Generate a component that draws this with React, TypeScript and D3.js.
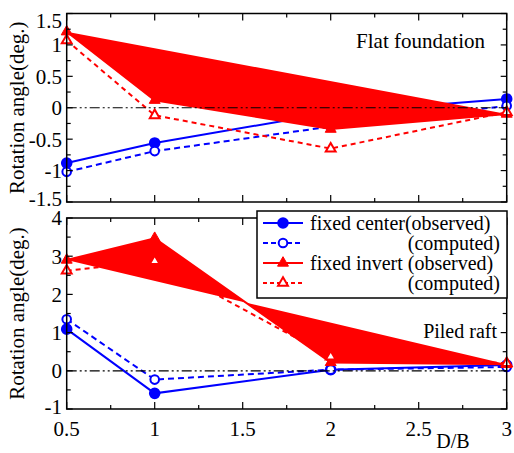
import * as d3 from "d3";

// D/B positions
const dbValues = [0.5, 1, 2, 3];

// Flat foundation (top panel)
const flatCenterObserved = [-0.88, -0.56, -0.08, 0.14];
const flatCenterComputed = [-1.02, -0.69, -0.3, 0.03];
const flatInvertObserved = [1.21, 0.12, -0.34, -0.1];
const flatInvertComputed = [1.07, -0.12, -0.65, -0.07];

// Piled raft (bottom panel)
const piledCenterObserved = [1.09, -0.59, 0.03, 0.15];
const piledCenterComputed = [1.35, -0.23, 0.03, 0.1];
const piledInvertObserved = [2.9, 3.47, 0.22, 0.17];
const piledInvertComputed = [2.62, 2.87, 0.37, 0.2];

const xMajorTicks = [0.5, 1, 1.5, 2, 2.5, 3];
const xMinorTicks = [0.75, 1.25, 1.75, 2.25, 2.75];
const topYTicks = [-1.5, -1, -0.5, 0, 0.5, 1, 1.5];
const topYMinor = [-1.25, -0.75, -0.25, 0.25, 0.75, 1.25];
const bottomYTicks = [-1, 0, 1, 2, 3, 4];
const bottomYMinor = [-0.5, 0.5, 1.5, 2.5, 3.5];

const legendLabels = [
  "fixed center(observed)",
  "(computed)",
  "fixed invert (observed)",
  "(computed)",
];

const BLUE = "#0000ff";
const RED = "#ff0000";
const FONT = "'Liberation Serif', 'Times New Roman', serif";

const left = 66.7;
const right = 506.7;

const x = d3.scaleLinear().domain([0.5, 3]).range([left, right]);

type Series = { values: number[]; color: string; filled: boolean; dash?: string; shape: "circle" | "triangle"; area?: boolean };

function Panel({
  y,
  yTicks,
  yMinor,
  series,
  showXLabels,
  isTop,
}: {
  y: d3.ScaleLinear<number, number>;
  yTicks: number[];
  yMinor: number[];
  series: Series[];
  showXLabels: boolean;
  isTop: boolean;
}) {
  const [y0, y1] = y.range(); // bottom, top
  const line = d3
    .line<number>()
    .x((_, i) => x(dbValues[i]))
    .y((d) => y(d));
  const tri = d3.symbol(d3.symbolTriangle, 52)();
  const triOpen = d3.symbol(d3.symbolTriangle, 42)();
  const fmt = (v: number) => String(v);
  const [dMin, dMax] = y.domain();

  const drawMarkers = (s: Series) =>
    s.values.map((v, i) =>
      s.shape === "circle" ? (
        <circle
          key={i}
          cx={x(dbValues[i])}
          cy={y(v)}
          r={s.filled ? 4.8 : 4.3}
          fill={s.filled ? s.color : "white"}
          stroke={s.color}
          strokeWidth={2}
        />
      ) : (
        <path
          key={i}
          d={(s.filled ? tri : triOpen) || ""}
          transform={`translate(${x(dbValues[i])},${y(v)})`}
          fill={s.filled ? s.color : "white"}
          stroke={s.color}
          strokeWidth={s.filled ? 1 : 2}
        />
      )
    );

  // label nudges, as in the original figure
  const labelShift = (t: number) => {
    if (isTop && t === dMax) return 7;
    if (isTop && t === dMin) return -3;
    if (!isTop && t === dMin) return -2;
    return 0;
  };

  return (
    <g>
      {series.map((s, k) => (
        <g key={k}>
          <path
            d={line(s.values) || ""}
            fill={s.area ? s.color : "none"}
            stroke={s.color}
            strokeWidth={2}
            strokeDasharray={s.dash}
          />
          {drawMarkers(s)}
        </g>
      ))}
      {/* zero reference line */}
      <line x1={left} x2={right} y1={y(0)} y2={y(0)} stroke="black" strokeWidth={1.2} strokeDasharray="10,3,2,3,2,3" />
      {/* frame */}
      <rect x={left} y={y1} width={right - left} height={y0 - y1} fill="none" stroke="black" strokeWidth={1.5} />
      {/* x ticks, inward top and bottom */}
      {[...xMajorTicks.map((t) => [t, 7]), ...xMinorTicks.map((t) => [t, 4])].map(([t, len], i) => (
        <g key={"x" + i}>
          <line x1={x(t)} x2={x(t)} y1={y0} y2={y0 - len} stroke="black" strokeWidth={1.2} />
          <line x1={x(t)} x2={x(t)} y1={y1} y2={y1 + len} stroke="black" strokeWidth={1.2} />
        </g>
      ))}
      {[...yTicks.map((t) => [t, 6]), ...yMinor.map((t) => [t, 4])].map(([t, len], i) => (
        <g key={"y" + i}>
          <line x1={left} x2={left + len} y1={y(t)} y2={y(t)} stroke="black" strokeWidth={1.2} />
          <line x1={right} x2={right - len} y1={y(t)} y2={y(t)} stroke="black" strokeWidth={1.2} />
        </g>
      ))}
      {yTicks.map((t) => (
        <text key={"yl" + t} x={62} y={y(t) + labelShift(t)} dy="0.35em" textAnchor="end" fontSize={21} fontFamily={FONT}>
          {fmt(t)}
        </text>
      ))}
      {showXLabels &&
        xMajorTicks.map((t) => (
          <text key={"xl" + t} x={x(t)} y={436} textAnchor="middle" fontSize={21} fontFamily={FONT}>
            {fmt(t)}
          </text>
        ))}
      <text
        transform={`translate(24,${(y0 + y1) / 2}) rotate(-90)`}
        textAnchor="middle"
        fontSize={21}
        fontFamily={FONT}
      >
        Rotation angle(deg.)
      </text>
    </g>
  );
}

function Legend() {
  const lx = 257;
  const ly = 211;
  const rows = [
    { color: BLUE, dash: undefined, shape: "circle", filled: true },
    { color: BLUE, dash: "5,3", shape: "circle", filled: false },
    { color: RED, dash: undefined, shape: "triangle", filled: true },
    { color: RED, dash: "4,3", shape: "triangle", filled: false },
  ];
  const tri = d3.symbol(d3.symbolTriangle, 52)();
  const triOpen = d3.symbol(d3.symbolTriangle, 42)();
  return (
    <g>
      <rect x={lx} y={ly} width={250} height={87} fill="white" stroke="black" strokeWidth={1.5} />
      {rows.map((r, i) => {
        const cy = 223 + i * 20;
        return (
          <g key={i}>
            <line x1={263} x2={303} y1={cy} y2={cy} stroke={r.color} strokeWidth={2} strokeDasharray={r.dash} />
            {r.shape === "circle" ? (
              <circle cx={283} cy={cy} r={r.filled ? 4.8 : 4.3} fill={r.filled ? r.color : "white"} stroke={r.color} strokeWidth={2} />
            ) : (
              <path d={(r.filled ? tri : triOpen) || ""} transform={`translate(283,${cy})`} fill={r.filled ? r.color : "white"} stroke={r.color} strokeWidth={r.filled ? 1 : 2} />
            )}
            <text
              x={i % 2 === 0 ? 310 : 500}
              y={cy + 7}
              textAnchor={i % 2 === 0 ? "start" : "end"}
              fontSize={20}
              fontFamily={FONT}
            >
              {legendLabels[i]}
            </text>
          </g>
        );
      })}
    </g>
  );
}

export default function App() {
  const yTop = d3.scaleLinear().domain([-1.5, 1.5]).range([202, 13.5]);
  const yBottom = d3.scaleLinear().domain([-1, 4]).range([409, 218]);

  const topSeries: Series[] = [
    { values: flatCenterObserved, color: BLUE, filled: true, shape: "circle" },
    { values: flatCenterComputed, color: BLUE, filled: false, dash: "6,4", shape: "circle" },
    { values: flatInvertObserved, color: RED, filled: true, shape: "triangle", area: true },
    { values: flatInvertComputed, color: RED, filled: false, dash: "5,4", shape: "triangle" },
  ];
  const bottomSeries: Series[] = [
    { values: piledCenterObserved, color: BLUE, filled: true, shape: "circle" },
    { values: piledCenterComputed, color: BLUE, filled: false, dash: "6,4", shape: "circle" },
    { values: piledInvertObserved, color: RED, filled: true, shape: "triangle", area: true },
    { values: piledInvertComputed, color: RED, filled: false, dash: "5,4", shape: "triangle" },
  ];

  return (
    <svg
      width={514}
      height={453}
      style={{ position: "absolute", left: 0, top: 0, background: "white" }}
    >
      <Panel y={yTop} yTicks={topYTicks} yMinor={topYMinor} series={topSeries} showXLabels={false} isTop={true} />
      <text x={485} y={48} textAnchor="end" fontSize={21} fontFamily={FONT}>
        Flat foundation
      </text>
      <Panel y={yBottom} yTicks={bottomYTicks} yMinor={bottomYMinor} series={bottomSeries} showXLabels={true} isTop={false} />
      <text x={497} y={338} textAnchor="end" fontSize={20} fontFamily={FONT}>
        Piled raft
      </text>
      <text x={453} y={448} textAnchor="middle" fontSize={20} fontFamily={FONT}>
        D/B
      </text>
      <Legend />
    </svg>
  );
}
